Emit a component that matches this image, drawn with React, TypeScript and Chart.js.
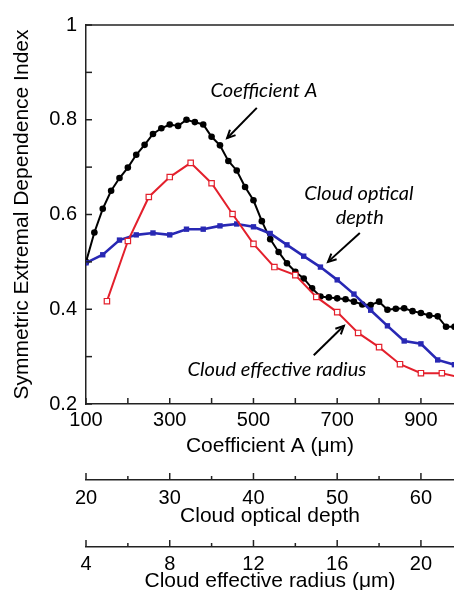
import React, { useEffect, useRef } from 'react';
import { Chart, registerables } from 'chart.js';

Chart.register(...registerables);

// Coefficient A series (x in µm)
const coefA = [100, 120, 140, 160, 180, 200, 220, 240, 260, 280, 300, 320, 340, 360, 380, 400, 420, 440, 460, 480, 500, 520, 540, 560, 580, 600, 620, 640, 660, 680, 700, 720, 740, 760, 780, 800, 820, 840, 860, 880, 900, 920, 940, 960, 980];
const coefAValues = [0.500, 0.562, 0.612, 0.650, 0.677, 0.699, 0.726, 0.747, 0.770, 0.782, 0.790, 0.787, 0.800, 0.795, 0.790, 0.764, 0.746, 0.713, 0.693, 0.658, 0.630, 0.586, 0.548, 0.521, 0.497, 0.479, 0.465, 0.444, 0.427, 0.425, 0.423, 0.421, 0.416, 0.410, 0.409, 0.416, 0.399, 0.401, 0.402, 0.396, 0.392, 0.387, 0.385, 0.363, 0.363];

// Cloud optical depth series
const tau = [20, 22, 24, 26, 28, 30, 32, 34, 36, 38, 40, 42, 44, 46, 48, 50, 52, 54, 56, 58, 60, 62, 64];
const tauValues = [0.498, 0.515, 0.546, 0.557, 0.561, 0.557, 0.569, 0.569, 0.576, 0.580, 0.574, 0.560, 0.536, 0.512, 0.489, 0.462, 0.432, 0.398, 0.365, 0.333, 0.327, 0.293, 0.283];

// Cloud effective radius series (µm)
const radius = [5, 6, 7, 8, 9, 10, 11, 12, 13, 14, 15, 16, 17, 18, 19, 20, 21, 22];
const radiusValues = [0.417, 0.544, 0.637, 0.679, 0.709, 0.666, 0.601, 0.538, 0.489, 0.472, 0.426, 0.394, 0.350, 0.320, 0.284, 0.265, 0.265, 0.255];

// Axis ranges
const A_MIN = 100;
const A_MAX = 979;
const TAU_MIN = 20;
const TAU_PER_A = 1 / 20;
const R_MIN = 4;
const R_PER_A = 1 / 50;

// Annotations (data coordinates: A, index)
const labels = [
  { text: 'Coefficient A', x: 525, y: 0.861 },
  { text: 'Cloud optical', x: 752, y: 0.645 },
  { text: 'depth', x: 754, y: 0.593 },
  { text: 'Cloud effective radius', x: 556, y: 0.272 },
];
const arrows = [
  { from: [508, 0.825], to: [437, 0.761] },
  { from: [754, 0.561], to: [678, 0.5] },
  { from: [644, 0.303], to: [716, 0.365] },
];

const FONT = "'Liberation Sans', Arial, sans-serif";

const decorPlugin = {
  id: 'decor',
  afterDraw(chart: any) {
    const ctx = chart.ctx;
    const ca = chart.chartArea;
    const sx = chart.scales.x;
    const sy = chart.scales.y;
    ctx.save();
    ctx.strokeStyle = '#222';
    ctx.lineWidth = 1.5;
    // top frame
    ctx.beginPath();
    ctx.moveTo(ca.left, ca.top);
    ctx.lineTo(chart.width, ca.top);
    ctx.stroke();
    // y ticks inward
    sy.ticks.forEach((t: any) => {
      const p = sy.getPixelForValue(t.value);
      ctx.beginPath();
      ctx.moveTo(ca.left, p);
      ctx.lineTo(ca.left + 6, p);
      ctx.stroke();
    });
    // x ticks inward
    sx.ticks.forEach((t: any) => {
      const p = sx.getPixelForValue(t.value);
      ctx.beginPath();
      ctx.moveTo(p, ca.bottom);
      ctx.lineTo(p, ca.bottom - 6);
      ctx.stroke();
    });
    // secondary axes ticks upward
    const sec = [
      { s: chart.scales.xTau, major: 10 },
      { s: chart.scales.xRad, major: 4 },
    ];
    sec.forEach(({ s, major }) => {
      s.ticks.forEach((t: any) => {
        const p = s.getPixelForValue(t.value);
        const isMajor = Math.abs(t.value / major - Math.round(t.value / major)) < 1e-6;
        ctx.beginPath();
        ctx.moveTo(p, s.top);
        ctx.lineTo(p, s.top - (isMajor ? 7 : 4));
        ctx.stroke();
      });
    });
    // annotations
    ctx.fillStyle = '#000';
    ctx.font = "italic 20px Lato, 'Open Sans', sans-serif";
    ctx.textAlign = 'center';
    ctx.textBaseline = 'middle';
    labels.forEach((l) => {
      ctx.fillText(l.text, sx.getPixelForValue(l.x), sy.getPixelForValue(l.y));
    });
    ctx.strokeStyle = '#000';
    ctx.lineWidth = 2;
    arrows.forEach((a) => {
      const x1 = sx.getPixelForValue(a.from[0]);
      const y1 = sy.getPixelForValue(a.from[1]);
      const x2 = sx.getPixelForValue(a.to[0]);
      const y2 = sy.getPixelForValue(a.to[1]);
      ctx.beginPath();
      ctx.moveTo(x1, y1);
      ctx.lineTo(x2, y2);
      ctx.stroke();
      const ang = Math.atan2(y2 - y1, x2 - x1);
      const hl = 9;
      ctx.beginPath();
      ctx.moveTo(x2 - hl * Math.cos(ang - 0.45), y2 - hl * Math.sin(ang - 0.45));
      ctx.lineTo(x2, y2);
      ctx.lineTo(x2 - hl * Math.cos(ang + 0.45), y2 - hl * Math.sin(ang + 0.45));
      ctx.stroke();
    });
    ctx.restore();
  },
};

const fitH = (h: number) => (s: any) => {
  s.height = h;
  s.paddingLeft = 0;
  s.paddingRight = 0;
};

export default function App() {
  const ref = useRef<HTMLCanvasElement>(null);
  useEffect(() => {
    if (!ref.current) return;
    Chart.defaults.font.family = FONT;
    Chart.defaults.color = '#000';
    const blackData = coefA.map((x, i) => ({ x, y: coefAValues[i] }));
    const blueData = tau.map((x, i) => ({ x, y: tauValues[i] }));
    const redData = radius.map((x, i) => ({ x, y: radiusValues[i] }));
    const chart = new Chart(ref.current, {
      type: 'line',
      data: {
        datasets: [
          {
            label: 'Cloud effective radius',
            data: redData,
            xAxisID: 'xRad',
            borderColor: '#e3202c',
            borderWidth: 2,
            pointStyle: 'rect',
            pointRadius: 3.8,
            pointBackgroundColor: '#ffffff',
            pointBorderColor: '#e3202c',
            pointBorderWidth: 1.2,
          },
          {
            label: 'Cloud optical depth',
            data: blueData,
            xAxisID: 'xTau',
            borderColor: '#2828b4',
            borderWidth: 2.6,
            pointStyle: 'rect',
            pointRadius: 3.8,
            pointBackgroundColor: '#2828b4',
            pointBorderColor: '#2828b4',
            pointBorderWidth: 0,
          },
          {
            label: 'Coefficient A',
            data: blackData,
            xAxisID: 'x',
            borderColor: '#000000',
            borderWidth: 2,
            pointStyle: 'circle',
            pointRadius: 3.3,
            pointBackgroundColor: '#000000',
            pointBorderColor: '#000000',
            pointBorderWidth: 0,
          },
        ],
      },
      options: {
        animation: false,
        responsive: false,
        events: [],
        layout: { autoPadding: false, padding: { top: 25, left: 0, right: 0, bottom: 0 } },
        plugins: { legend: { display: false }, tooltip: { enabled: false } },
        scales: {
          x: {
            type: 'linear',
            position: 'bottom',
            weight: 0,
            min: A_MIN,
            max: A_MAX,
            grid: { display: false, drawTicks: false },
            border: { display: true, color: '#222', width: 1.5 },
            ticks: {
              stepSize: 100,
              includeBounds: false,
              autoSkip: false,
              maxRotation: 0,
              padding: 4,
              font: { size: 20 },
              callback: (v: any) => (Math.round(v) % 200 === 100 ? String(v) : ''),
            },
            title: { display: true, text: 'Coefficient A (μm)', font: { size: 21 }, padding: { top: 0, bottom: 21 } },
            afterFit: fitH(76),
          },
          xTau: {
            type: 'linear',
            position: 'bottom',
            weight: 1,
            min: TAU_MIN,
            max: TAU_MIN + (A_MAX - A_MIN) * TAU_PER_A,
            grid: { display: false, drawTicks: false },
            border: { display: true, color: '#222', width: 1.5 },
            ticks: {
              stepSize: 5,
              includeBounds: false,
              autoSkip: false,
              maxRotation: 0,
              padding: 6,
              font: { size: 20 },
              callback: (v: any) => (Math.round(v) % 10 === 0 ? String(v) : ''),
            },
            title: { display: true, text: 'Cloud optical depth', font: { size: 21 }, padding: { top: 0, bottom: 18 } },
            afterFit: fitH(67),
          },
          xRad: {
            type: 'linear',
            position: 'bottom',
            weight: 2,
            min: R_MIN,
            max: R_MIN + (A_MAX - A_MIN) * R_PER_A,
            grid: { display: false, drawTicks: false },
            border: { display: true, color: '#222', width: 1.5 },
            ticks: {
              stepSize: 2,
              includeBounds: false,
              autoSkip: false,
              maxRotation: 0,
              padding: 5,
              font: { size: 20 },
              callback: (v: any) => (Math.round(v) % 4 === 0 ? String(v) : ''),
            },
            title: { display: true, text: 'Cloud effective radius (μm)', font: { size: 21 }, padding: { top: 0, bottom: -4 } },
            afterFit: fitH(43),
          },
          y: {
            type: 'linear',
            position: 'left',
            min: 0.2,
            max: 1.0,
            grid: { display: false, drawTicks: false },
            border: { display: true, color: '#222', width: 1.5 },
            ticks: {
              stepSize: 0.1,
              autoSkip: false,
              padding: 9,
              font: { size: 20 },
              callback: (v: any) => {
                const k = Math.round(v * 10);
                if (k % 2 !== 0) return '';
                return k === 10 ? '1' : (k / 10).toFixed(1);
              },
            },
            title: { display: true, text: 'Symmetric Extremal Dependence Index', font: { size: 21 }, padding: { top: 10, bottom: 0 } },
            afterFit: (s: any) => { s.width = 86; },
          },
        },
      },
      plugins: [decorPlugin],
    } as any);
    return () => chart.destroy();
  }, []);
  return (
    <div style={{ position: 'fixed', left: 0, top: 0, width: 454, height: 590, background: '#fff', overflow: 'hidden' }}>
      <canvas ref={ref} width={454} height={590} style={{ display: 'block' }} />
    </div>
  );
}
